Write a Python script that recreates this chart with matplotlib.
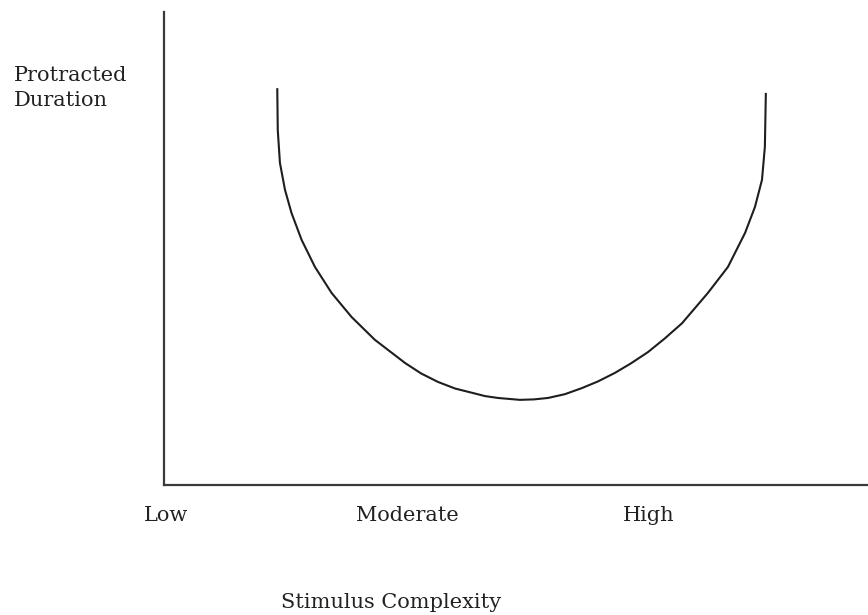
import matplotlib
matplotlib.use("Agg")
import matplotlib.pyplot as plt

# Category axis: Low=0, Moderate=1, High=2
categories = ["Low", "Moderate", "High"]
category_pos = [0, 1, 2]

# U-shaped curve (complexity, duration on 0-100 scale)
complexity = [0.461, 0.463, 0.472, 0.493, 0.520, 0.562, 0.617, 0.686, 0.769, 0.865,
              0.990, 1.056, 1.126, 1.197, 1.267, 1.321, 1.375, 1.466, 1.524, 1.582,
              1.652, 1.723, 1.789, 1.859, 1.925, 1.996, 2.066, 2.137,
              2.244, 2.327, 2.398, 2.439, 2.468, 2.480, 2.484]
duration = [83.9, 75.1, 68.1, 62.4, 57.5, 51.8, 46.1, 40.6, 35.5, 30.7,
            25.8, 23.6, 21.8, 20.4, 19.5, 18.8, 18.4, 18.0, 18.1, 18.4,
            19.2, 20.5, 21.9, 23.7, 25.7, 28.1, 31.0, 34.2,
            40.6, 46.1, 53.3, 58.8, 64.5, 71.5, 82.9]

fig = plt.figure(figsize=(8.68, 6.15), dpi=100)
ax = fig.add_axes([164/868, 1-485/615, (868-164)/868, (485-12)/615])

ax.plot(complexity, duration, color="#1e1e1e", lw=1.5, solid_capstyle="butt",
        solid_joinstyle="round")

ax.set_xlim(-0.008, 2.907)
ax.set_ylim(0, 100)

for s in ["top", "right"]:
    ax.spines[s].set_visible(False)
for s in ["left", "bottom"]:
    ax.spines[s].set_color("#3a3a3a")
    ax.spines[s].set_linewidth(1.6)

font = dict(fontfamily="DejaVu Serif", fontsize=15, color="#222222")

ax.set_yticks([])
ax.set_xticks(category_pos)
ax.set_xticklabels(categories, **font)
ax.tick_params(axis="x", length=0, pad=15)

fig.text(14/868, 1-88/615, "Protracted\nDuration", ha="left", va="center",
         linespacing=1.35, **font)
fig.text(391/868, 1-603/615, "Stimulus Complexity", ha="center", va="center", **font)

fig.savefig("out.png", dpi=100)
